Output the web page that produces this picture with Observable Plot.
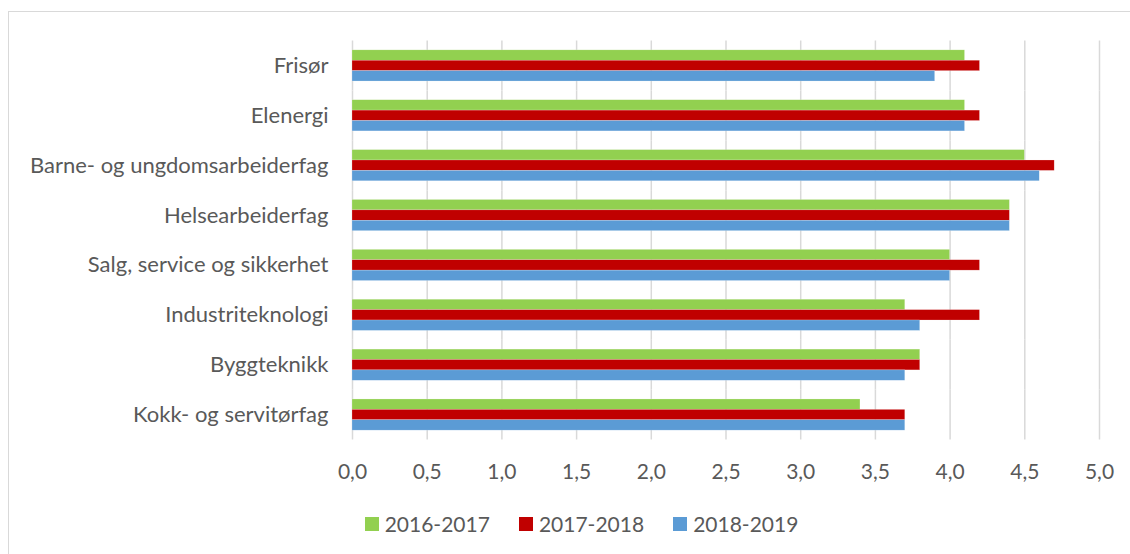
<!DOCTYPE html>
<html>
<head>
<meta charset="utf-8">
<script src="https://cdn.jsdelivr.net/npm/d3@7"></script>
<script src="https://cdn.jsdelivr.net/npm/@observablehq/plot@0.6"></script>
<style>
  html, body { margin: 0; padding: 0; background: #fff; }
  body { width: 1130px; height: 554px; position: relative; overflow: hidden; font-family: "Lato", sans-serif; }
  #frame { position: absolute; left: 8px; top: 11px; width: 1200px; height: 600px; border-left: 1px solid #d9d9d9; border-top: 1px solid #d9d9d9; box-sizing: border-box; }
  #chart { position: absolute; left: 0; top: 0; }
  #legend { position: absolute; left: 0; top: 513px; width: 1163px; display: flex; justify-content: center; font-size: 21px; line-height: 21px; color: #595959; }
  .item { display: flex; align-items: center; margin: 0 14.5px; }
  .sw { width: 14px; height: 14px; margin-right: 6px; }
</style>
</head>
<body>
<div id="frame"></div>
<div id="chart"></div>
<div id="legend"></div>
<script>
const categories = ["Frisør", "Elenergi", "Barne- og ungdomsarbeiderfag", "Helsearbeiderfag",
  "Salg, service og sikkerhet", "Industriteknologi", "Byggteknikk", "Kokk- og servitørfag"];
const series = ["2016-2017", "2017-2018", "2018-2019"];
const values2016_2017 = [4.1, 4.1, 4.5, 4.4, 4.0, 3.7, 3.8, 3.4];
const values2017_2018 = [4.2, 4.2, 4.7, 4.4, 4.2, 4.2, 3.8, 3.7];
const values2018_2019 = [3.9, 4.1, 4.6, 4.4, 4.0, 3.8, 3.7, 3.7];
const xTicks = [0, 0.5, 1, 1.5, 2, 2.5, 3, 3.5, 4, 4.5, 5];
const colors = ["#92D050", "#C00000", "#5B9BD5"];

const seriesValues = [values2016_2017, values2017_2018, values2018_2019];
const data = [];
categories.forEach((c, i) => series.forEach((s, j) => data.push({category: c, series: s, value: seriesValues[j][i]})));

const fmt = d => d3.format(".1f")(d).replace(".", ",");

const chart = Plot.plot({
  width: 1130,
  height: 490,
  marginTop: 40.5,
  marginBottom: 50.5,
  marginLeft: 352,
  marginRight: 31,
  style: {fontFamily: "Lato, sans-serif", fontSize: "21px", color: "#595959", background: "transparent"},
  x: {domain: [0, 5]},
  y: {domain: series, paddingInner: 0, paddingOuter: 0.9, round: false, axis: null},
  fy: {domain: categories, paddingInner: 0, paddingOuter: 0, round: false},
  color: {domain: series, range: colors},
  marks: [
    Plot.gridX(xTicks, {stroke: "#d9d9d9", strokeOpacity: 1, strokeWidth: 1.5}),
    Plot.barX(data, {x: "value", y: "series", fy: "category", fill: "series", inset: 0, stroke: "white", strokeOpacity: 0.4, strokeWidth: 0.5}),
    Plot.axisX({ticks: xTicks, tickFormat: fmt, tickSize: 0, tickPadding: 24, label: null, fill: "#595959", fontSize: 21}),
    Plot.axisFy({anchor: "left", tickSize: 0, tickPadding: 24, label: null, fill: "#595959", fontSize: 22})
  ]
});
document.getElementById("chart").appendChild(chart);

const legend = document.getElementById("legend");
series.forEach((s, j) => {
  const item = document.createElement("div");
  item.className = "item";
  const sw = document.createElement("span");
  sw.className = "sw";
  sw.style.background = colors[j];
  const t = document.createElement("span");
  t.textContent = s;
  item.appendChild(sw);
  item.appendChild(t);
  legend.appendChild(item);
});
</script>
</body>
</html>
